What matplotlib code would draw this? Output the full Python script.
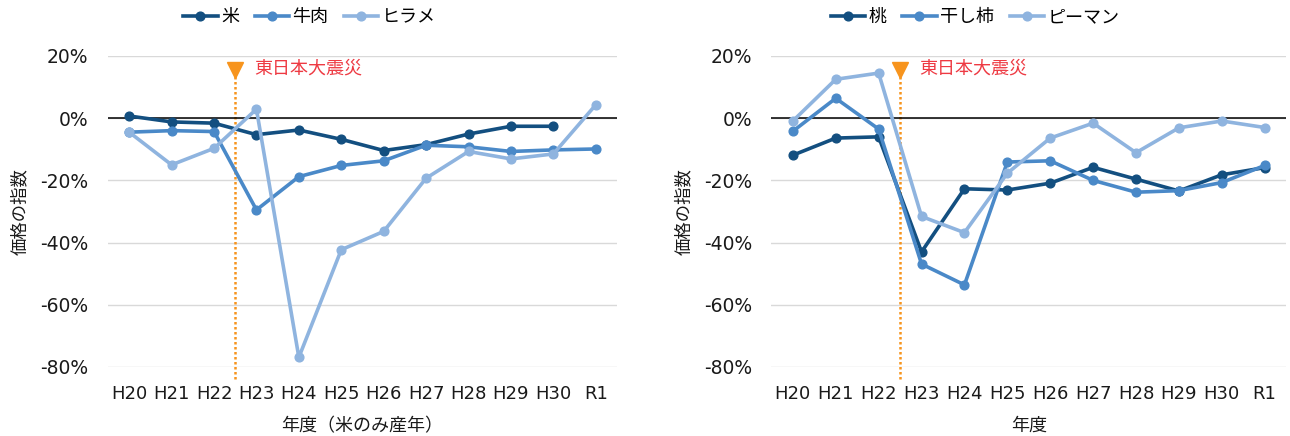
import numpy as np
import matplotlib.pyplot as plt

plt.rcParams['font.family'] = ['DejaVu Sans', 'Noto Sans CJK JP']
jp = ['Noto Sans CJK JP', 'DejaVu Sans']

years = ['H20', 'H21', 'H22', 'H23', 'H24', 'H25', 'H26', 'H27', 'H28', 'H29', 'H30', 'R1']

# left chart (%)
kome = [0.7, -1.2, -1.6, -5.3, -3.8, -6.8, -10.4, -8.5, -5.1, -2.6, -2.6, np.nan]
gyuniku = [-4.5, -4.0, -4.3, -29.5, -18.8, -15.2, -13.7, -8.7, -9.2, -10.7, -10.2, -9.9]
hirame = [-4.5, -15.0, -9.7, 2.9, -76.9, -42.3, -36.4, -19.3, -10.7, -13.1, -11.5, 4.3]

# right chart (%)
momo = [-11.9, -6.4, -6.0, -43.0, -22.7, -23.1, -20.9, -15.8, -19.6, -23.4, -18.2, -15.9]
hoshigaki = [-4.2, 6.4, -3.5, -46.9, -53.6, -14.1, -13.7, -20.0, -23.8, -23.3, -20.7, -15.2]
piman = [-0.9, 12.5, 14.5, -31.6, -36.8, -17.7, -6.4, -1.6, -11.1, -3.1, -0.9, -3.0]

c_dark = '#134f80'
c_mid = '#4a89c8'
c_light = '#8fb4df'
c_orange = '#f7941d'
c_red = '#ee3a43'

fig = plt.figure(figsize=(12.9, 4.36), dpi=100)
ax1 = fig.add_axes([0.0837, 0.1583, 0.3946, 0.7133])
ax2 = fig.add_axes([0.598, 0.1583, 0.399, 0.7133])

def draw(ax, series, names, xtitle):
    x = np.arange(len(years))
    cols = [c_dark, c_mid, c_light]
    for vals, name, col in zip(series, names, cols):
        ax.plot(x, vals, color=col, lw=2.6, marker='o', ms=6.3, label=name)
    ax.set_xlim(-0.5, len(years) - 0.5)
    ax.set_ylim(-80, 20)
    ax.set_yticks(np.arange(-80, 21, 20))
    ax.set_yticklabels(['%d%%' % v for v in np.arange(-80, 21, 20)])
    ax.set_xticks(x)
    ax.set_xticklabels(years)
    ax.grid(axis='y', color='#d9d9d9', lw=1)
    ax.set_axisbelow(True)
    ax.axhline(0, color='black', lw=1.1, zorder=1.5)
    for s in ax.spines.values():
        s.set_visible(False)
    ax.tick_params(length=0, labelsize=13.5, colors='#1a1a1a')
    ax.tick_params(axis='x', pad=13, labelsize=13)
    ax.tick_params(axis='y', pad=14)
    ax.set_ylabel('価格の指数', fontsize=12.5, labelpad=8, family=jp, color='#1a1a1a')
    ax.set_xlabel(xtitle, fontsize=13, labelpad=10, family=jp, color='#1a1a1a')
    # earthquake marker
    ax.plot([2.5, 2.5], [-84, 14], color=c_orange, lw=1.8, ls=(0, (1, 1)), clip_on=False, zorder=1)
    ax.plot(2.5, 15.5, marker='v', color=c_orange, ms=12, clip_on=False, zorder=3)
    ax.text(2.95, 16, '東日本大震災', color=c_red, fontsize=13, va='center', ha='left', family=jp)
    ax.legend(loc='center', bbox_to_anchor=(0.396, 1.125), ncol=3, frameon=False,
              prop={'family': jp, 'size': 13}, handlelength=1.9, handletextpad=0.2,
              columnspacing=0.85, borderaxespad=0)

draw(ax1, [kome, gyuniku, hirame], ['米', '牛肉', 'ヒラメ'], '年度（米のみ産年）')
draw(ax2, [momo, hoshigaki, piman], ['桃', '干し柿', 'ピーマン'], '年度')

fig.savefig('out.png', dpi=100)
